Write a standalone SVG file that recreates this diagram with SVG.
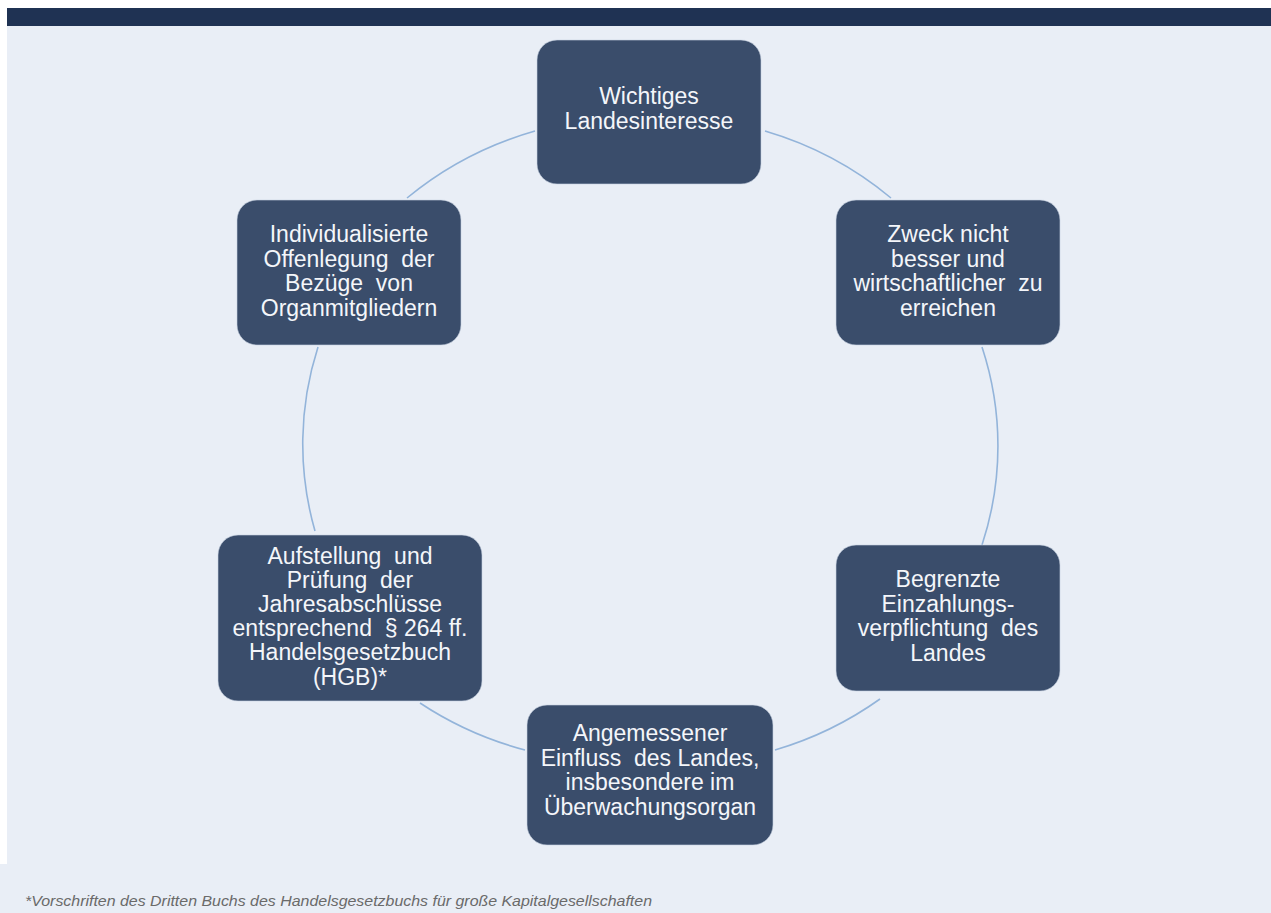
<svg xmlns="http://www.w3.org/2000/svg" width="1271" height="913" viewBox="0 0 1271 913">
<style>
.node rect{fill:#3a4d6b;stroke:#c9d3e2;stroke-width:1;stroke-opacity:0.6}
.node text{fill:#f4f6fa;font-family:"Liberation Sans",Arial,sans-serif;font-size:23px;text-anchor:middle;white-space:pre}
.conn path{fill:none;stroke:#93b4da;stroke-width:1.6}
.foot{fill:#6a6a6a;font-family:"Liberation Sans",Arial,sans-serif;font-size:14.5px;font-style:italic}
</style>
<rect x="0" y="0" width="1271" height="913" fill="#ffffff"/>
<rect x="7" y="26" width="1264" height="887" fill="#e9eef6"/>
<rect x="0" y="864" width="1271" height="49" fill="#e9eef6"/>
<rect x="7" y="8" width="1264" height="18" fill="#1f3253"/>
<g class="conn" id="connectors">
<path d="M765,131 A346,330 0 0 1 891,198"/>
<path d="M982,347 A346,330 0 0 1 982,545"/>
<path d="M880,699 A346,330 0 0 1 775,750"/>
<path d="M525,750 A346,330 0 0 1 420,703"/>
<path d="M315,531 A346,330 0 0 1 318,347"/>
<path d="M407,198 A346,330 0 0 1 535,131"/>
</g>
<g class="node" id="node-landesinteresse">
<rect x="537" y="40" width="224" height="144" rx="20"/>
<text x="649" y="104">Wichtiges</text>
<text x="649" y="129">Landesinteresse</text>
</g>
<g class="node" id="node-zweck">
<rect x="836" y="200" width="224" height="145" rx="20"/>
<text x="948" y="242">Zweck nicht</text>
<text x="948" y="266.5">besser und</text>
<text x="948" y="291" xml:space="preserve">wirtschaftlicher  zu</text>
<text x="948" y="315.5">erreichen</text>
</g>
<g class="node" id="node-einzahlung">
<rect x="836" y="545" width="224" height="146" rx="20"/>
<text x="948" y="587">Begrenzte</text>
<text x="948" y="611.5">Einzahlungs-</text>
<text x="948" y="636" xml:space="preserve">verpflichtung  des</text>
<text x="948" y="660.5">Landes</text>
</g>
<g class="node" id="node-einfluss">
<rect x="527" y="705" width="246" height="140" rx="20"/>
<text x="650" y="741">Angemessener</text>
<text x="650" y="765.5" xml:space="preserve">Einfluss  des Landes,</text>
<text x="650" y="790">insbesondere im</text>
<text x="650" y="814.5">Überwachungsorgan</text>
</g>
<g class="node" id="node-jahresabschluss">
<rect x="218" y="535" width="264" height="166" rx="20"/>
<text x="350" y="563.5" xml:space="preserve">Aufstellung  und</text>
<text x="350" y="587.7" xml:space="preserve">Prüfung  der</text>
<text x="350" y="611.9">Jahresabschlüsse</text>
<text x="350" y="636.1" xml:space="preserve">entsprechend  § 264 ff.</text>
<text x="350" y="660.3">Handelsgesetzbuch</text>
<text x="350" y="684.5">(HGB)*</text>
</g>
<g class="node" id="node-offenlegung">
<rect x="237" y="200" width="224" height="145" rx="20"/>
<text x="349" y="242">Individualisierte</text>
<text x="349" y="266.5" xml:space="preserve">Offenlegung  der</text>
<text x="349" y="291" xml:space="preserve">Bezüge  von</text>
<text x="349" y="315.5">Organmitgliedern</text>
</g>
<text class="foot" x="25" y="906" textLength="627" lengthAdjust="spacingAndGlyphs">*Vorschriften des Dritten Buchs des Handelsgesetzbuchs für große Kapitalgesellschaften</text>
</svg>
